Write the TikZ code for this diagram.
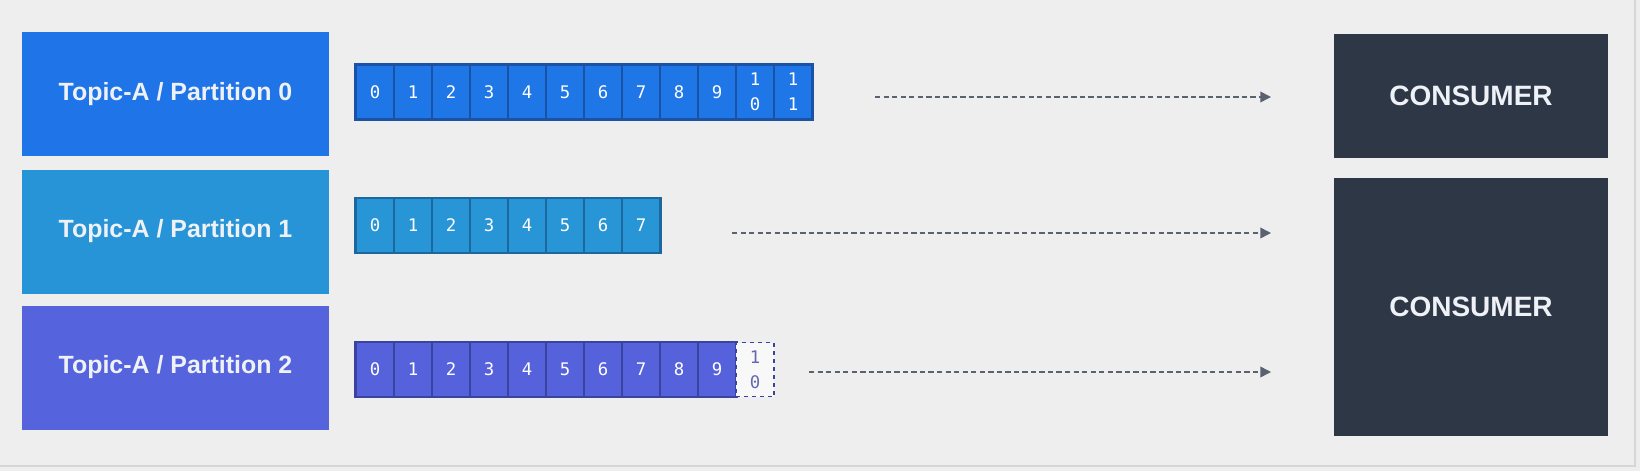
\documentclass[tikz,border=0pt]{standalone}
\usepackage{fontspec}
\setmainfont{Liberation Sans}
\newfontfamily\digitfont{DejaVu Sans Mono}
\usetikzlibrary{arrows.meta}

\definecolor{bgcol}{HTML}{EEEEEE}
\definecolor{framecol}{HTML}{D6D6D6}
\definecolor{partA}{HTML}{1F74E8}
\definecolor{partB}{HTML}{2894D8}
\definecolor{partC}{HTML}{5563DD}
\definecolor{cellA}{HTML}{1F76E6}
\definecolor{lineA}{HTML}{1A52A6}
\definecolor{cellB}{HTML}{2895D6}
\definecolor{lineB}{HTML}{1C679E}
\definecolor{cellC}{HTML}{5562DC}
\definecolor{lineC}{HTML}{3A439E}
\definecolor{consumercol}{HTML}{2E3746}
\definecolor{arrowcol}{HTML}{5A6272}
\definecolor{labelcol}{HTML}{EEF1F6}

\tikzset{
  part/.style={rectangle, inner sep=0pt, minimum width=230.25pt, minimum height=93pt,
    text=labelcol, font=\fontsize{18.7}{22}\selectfont\bfseries},
  cell/.style={rectangle, inner sep=0pt, line width=0.9pt, minimum width=28.5pt,
    minimum height=40.5pt, text=white, align=center,
    font=\digitfont\fontsize{13}{18.5}\selectfont},
  rowline/.style={line width=1.4pt},
  consumer/.style={rectangle, inner sep=0pt, fill=consumercol, minimum width=205.5pt,
    text=labelcol, font=\fontsize{21}{24}\selectfont\bfseries},
  flow/.style={draw=arrowcol, line width=1.1pt, dash pattern=on 4pt off 2.4pt,
    -{Triangle[length=8pt,width=8pt]}}
}

\begin{document}
\begin{tikzpicture}[x=0.75pt,y=0.75pt,yscale=-1,xscale=1]

% background
\useasboundingbox (0,0) rectangle (1640,471);
\fill [bgcol] (0,0) rectangle (1640,471);
\draw [framecol, line width=1.5pt] (0,466) -- (1635,466) -- (1635,0);

% partitions
\node [part, fill=partA] (part0) at (175.5,94) {Topic-A / Partition 0};
\node [part, fill=partB] (part1) at (175.5,231.5) {Topic-A / Partition 1};
\node [part, fill=partC] (part2) at (175.5,367.5) {Topic-A / Partition 2};

% offsets, partition 0
\foreach \t [count=\i from 0] in {0,1,2,3,4,5,6,7,8,9,{1\\0},{1\\1}}
  \node [cell, fill=cellA, draw=lineA] (p0c\i) at ({375+38*\i},92) {\t};
\draw [rowline, lineA] (p0c0.north west) rectangle (p0c11.south east);

% offsets, partition 1
\foreach \i in {0,...,7}
  \node [cell, fill=cellB, draw=lineB] (p1c\i) at ({375+38*\i},225.5) {\i};
\draw [rowline, lineB] (p1c0.north west) rectangle (p1c7.south east);

% offsets, partition 2
\foreach \i in {0,...,9}
  \node [cell, fill=cellC, draw=lineC] (p2c\i) at ({375+38*\i},369.5) {\i};
\draw [rowline, lineC] (p2c0.north west) rectangle (p2c9.south east);
\node [cell, fill=white!60!bgcol, draw=lineC, dashed, text=lineC!80!white] (p2c10) at (755,369.5) {1\\0};

% consumers
\node [consumer, minimum height=93pt] (cons0) at (1471,96) {CONSUMER};
\node [consumer, minimum height=193.5pt] (cons1) at (1471,307) {CONSUMER};

% reads
\coordinate (r0s) at (875,97);
\coordinate (r0e) at (1271,97);
\coordinate (r1s) at (732,233);
\coordinate (r1e) at (1271,233);
\coordinate (r2s) at (809,372);
\coordinate (r2e) at (1271,372);
\draw [flow] (r0s) -- (r0e);
\draw [flow] (r1s) -- (r1e);
\draw [flow] (r2s) -- (r2e);

\end{tikzpicture}
\end{document}
